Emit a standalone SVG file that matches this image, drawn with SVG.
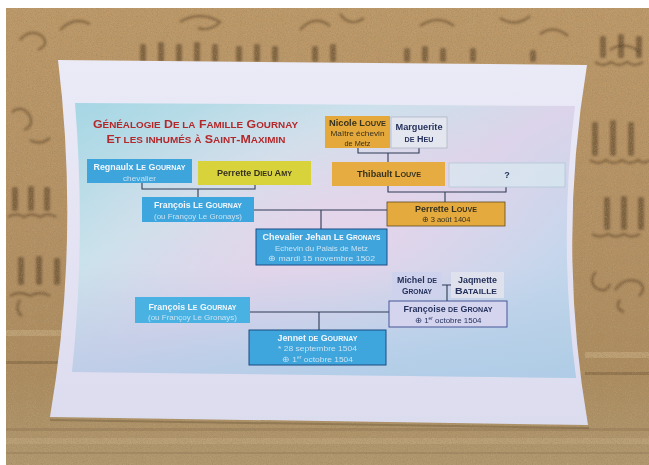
<svg xmlns="http://www.w3.org/2000/svg" width="649" height="465" viewBox="0 0 649 465">
<defs>
<style>
.t{font-family:"Liberation Sans",Arial,sans-serif;text-anchor:middle}
.b{font-weight:bold;font-size:9px}
.s{font-size:7.5px}
.sc{font-size:7.2px}
.w{fill:#f1f7fc}
.wl{fill:#c6e2f4}
.dk{fill:#36311f}
.nv{fill:#26325c}
.ttl{font-weight:bold;font-size:11.5px;fill:#b3282b}
.tsc{font-size:9.2px}
.con{fill:none;stroke:#2e3a55;stroke-width:1.1}
.cv{fill:#4f3820;opacity:.55}
.cw{fill:none;stroke:#4f3820;stroke-width:2.4;opacity:.5}
</style>
<linearGradient id="stone" x1="0" y1="0" x2="0" y2="1">
<stop offset="0" stop-color="#bc9868"/>
<stop offset="0.5" stop-color="#b39063"/>
<stop offset="0.8" stop-color="#ab8b5e"/>
<stop offset="1" stop-color="#b0976e"/>
</linearGradient>
<linearGradient id="paperG" x1="0" y1="0" x2="0" y2="1">
<stop offset="0" stop-color="#ebeaf7"/>
<stop offset="1" stop-color="#dcdcef"/>
</linearGradient>
<linearGradient id="chartG" x1="0" y1="0" x2="1" y2="1">
<stop offset="0" stop-color="#a6d6e4"/>
<stop offset="0.3" stop-color="#cae2eb"/>
<stop offset="0.5" stop-color="#dcd4ea"/>
<stop offset="0.75" stop-color="#c5d6ec"/>
<stop offset="1" stop-color="#b9d3e6"/>
</linearGradient>
<radialGradient id="pink" cx="0.5" cy="0.45" r="0.5">
<stop offset="0" stop-color="#ead5ea" stop-opacity="0.7"/>
<stop offset="1" stop-color="#ead5ea" stop-opacity="0"/>
</radialGradient>
<linearGradient id="lowBlue" x1="0" y1="0" x2="0" y2="1">
<stop offset="0.6" stop-color="#a9c8e6" stop-opacity="0"/>
<stop offset="1" stop-color="#a9c8e6" stop-opacity="0.6"/>
</linearGradient>
<filter id="grain" x="0" y="0" width="100%" height="100%">
<feTurbulence type="fractalNoise" baseFrequency="0.8" numOctaves="3" seed="4" result="t"/>
<feColorMatrix in="t" type="matrix" values="0 0 0 0 0.34  0 0 0 0 0.24  0 0 0 0 0.12  1.5 0 0 0 -0.7"/>
</filter>
<filter id="grain2" x="0" y="0" width="100%" height="100%">
<feTurbulence type="fractalNoise" baseFrequency="0.95" numOctaves="2" seed="9" result="t"/>
<feColorMatrix in="t" type="matrix" values="0 0 0 0 0.88  0 0 0 0 0.74  0 0 0 0 0.52  1.4 0 0 0 -0.7"/>
</filter>
<filter id="soft"><feGaussianBlur stdDeviation="0.9"/></filter>
</defs>

<g id="background">
<rect x="0" y="0" width="649" height="465" fill="#ffffff"/>
<rect x="6" y="8" width="643" height="457" fill="url(#stone)"/>
<rect x="6" y="330" width="60" height="6" fill="#c6ab80" opacity="0.6"/>
<rect x="6" y="361" width="60" height="3" fill="#6f5637" opacity="0.45"/>
<rect x="585" y="352" width="64" height="6" fill="#c6ab80" opacity="0.6"/>
<rect x="585" y="372" width="64" height="3" fill="#6f5637" opacity="0.45"/>
<rect x="6" y="428" width="643" height="3" fill="#8a7150" opacity="0.4"/>
<rect x="6" y="438" width="643" height="6" fill="#c4aa80" opacity="0.5"/>
<rect x="6" y="452" width="643" height="2" fill="#8a7150" opacity="0.35"/>
<g filter="url(#soft)">
<path class="cw" d="M20,40 q10,-12 22,-4 q8,8 -4,14 M60,30 q14,-14 30,-6 M180,22 q20,-12 40,0 q-10,10 -22,6 M300,30 q14,-16 30,-4 M340,14 q10,14 24,4 M420,26 q18,-12 34,0 M500,18 q16,10 30,-2 M540,34 q14,-10 28,2 M610,50 q14,-10 30,2"/>
<rect class="cv" x="140" y="44" width="6" height="18" rx="2"/>
<rect class="cv" x="158" y="42" width="6" height="20" rx="2"/>
<rect class="cv" x="176" y="44" width="6" height="18" rx="2"/>
<rect class="cv" x="194" y="42" width="6" height="20" rx="2"/>
<rect class="cv" x="212" y="44" width="6" height="18" rx="2"/>
<rect class="cv" x="236" y="46" width="6" height="16" rx="2"/>
<rect class="cv" x="254" y="44" width="6" height="18" rx="2"/>
<rect class="cv" x="272" y="46" width="6" height="16" rx="2"/>
<rect class="cv" x="312" y="46" width="6" height="16" rx="2"/>
<rect class="cv" x="330" y="44" width="6" height="18" rx="2"/>
<rect class="cv" x="404" y="48" width="6" height="14" rx="2"/>
<rect class="cv" x="422" y="46" width="6" height="16" rx="2"/>
<rect class="cv" x="440" y="48" width="6" height="14" rx="2"/>
<rect class="cv" x="470" y="48" width="6" height="14" rx="2"/>
<rect class="cv" x="530" y="50" width="6" height="12" rx="2"/>
<rect class="cv" x="600" y="36" width="6" height="22" rx="2"/>
<rect class="cv" x="618" y="34" width="6" height="24" rx="2"/>
<rect class="cv" x="636" y="36" width="6" height="22" rx="2"/>
<path class="cw" d="M595,62 q8,6 16,0 q8,6 16,0 q8,6 16,0"/>
<rect class="cv" x="592" y="122" width="6" height="34" rx="2"/>
<rect class="cv" x="610" y="120" width="6" height="36" rx="2"/>
<rect class="cv" x="628" y="122" width="6" height="34" rx="2"/>
<path class="cw" d="M590,160 q8,6 16,0 q8,6 16,0 q8,6 16,0 q6,5 12,0"/>
<rect class="cv" x="604" y="197" width="6" height="33" rx="2"/>
<rect class="cv" x="621" y="196" width="6" height="34" rx="2"/>
<rect class="cv" x="638" y="197" width="6" height="33" rx="2"/>
<path class="cw" d="M592,234 q8,5 16,0 q8,5 16,0 q8,5 16,0"/>
<path class="cw" d="M596,272 q-8,8 0,16 q10,6 14,-4 M615,290 q10,-14 24,-8 q8,6 0,14 M620,300 q-6,8 4,12"/>
<rect class="cv" x="12" y="187" width="6" height="24" rx="2"/>
<rect class="cv" x="28" y="186" width="6" height="25" rx="2"/>
<rect class="cv" x="44" y="187" width="6" height="24" rx="2"/>
<path class="cw" d="M8,217 q8,-5 16,0 q8,-5 16,0 q8,-5 16,0"/>
<rect class="cv" x="18" y="257" width="6" height="28" rx="2"/>
<rect class="cv" x="36" y="256" width="6" height="29" rx="2"/>
<rect class="cv" x="54" y="258" width="6" height="27" rx="2"/>
<path class="cw" d="M10,296 q10,-6 20,0 q10,-6 20,0 M20,300 q-6,10 2,16"/>
<path class="cw" d="M12,112 q10,-8 18,4 q4,10 -6,14 M30,140 q10,6 20,-2"/>
</g>
<rect x="6" y="8" width="643" height="457" filter="url(#grain)"/>
<rect x="6" y="8" width="643" height="457" filter="url(#grain2)" opacity="0.25"/>
</g>

<g id="paper">
<path d="M50,419 L589,427 L589,429 L50,421 Z" fill="#5e4c34" opacity="0.35"/>
<path d="M58,60 L587,65 Q557,245 588,425 L50,417 Q80,240 58,60 Z" fill="url(#paperG)"/>
<path d="M75,103 L575,106 Q558,240 576,378 L72,372 Q86,238 75,103 Z" fill="url(#chartG)"/>
<path d="M75,103 L575,106 Q558,240 576,378 L72,372 Q86,238 75,103 Z" fill="url(#pink)"/>
<path d="M75,103 L575,106 Q558,240 576,378 L72,372 Q86,238 75,103 Z" fill="url(#lowBlue)"/>
</g>

<g id="title">
<text class="t ttl" x="195.5" y="128" textLength="205" lengthAdjust="spacingAndGlyphs">G<tspan class="tsc">ÉNÉALOGIE</tspan> D<tspan class="tsc">E LA</tspan> F<tspan class="tsc">AMILLE</tspan> G<tspan class="tsc">OURNAY</tspan></text>
<text class="t ttl" x="196" y="142.5" textLength="179" lengthAdjust="spacingAndGlyphs">E<tspan class="tsc">T LES INHUMÉS À</tspan> S<tspan class="tsc">AINT</tspan>-M<tspan class="tsc">AXIMIN</tspan></text>
</g>

<g id="connectors">
<path class="con" d="M142,183 V189 H255 V185 M198,189 V197"/>
<path class="con" d="M358,148 V153 H419 V148 M388,153 V162"/>
<path class="con" d="M388,186 V192 H506 V187 M445,192 V202"/>
<path class="con" d="M254,210 H387 M321,210 V229"/>
<path class="con" d="M442,285 H451 M447,285 V301"/>
<path class="con" d="M250,312 H389 M319,312 V330"/>
</g>

<g id="node-regnaulx">
<rect x="87" y="159" width="105" height="24" fill="#3ea4dc"/>
<text class="t b w" x="139.5" y="170" textLength="92" lengthAdjust="spacingAndGlyphs">Regnaulx L<tspan class="sc">E</tspan> G<tspan class="sc">OURNAY</tspan></text>
<text class="t s wl" x="139.5" y="180.5" textLength="33" lengthAdjust="spacingAndGlyphs">chevalier</text>
</g>

<g id="node-perrette-dieu-amy">
<rect x="198" y="161" width="113" height="24" fill="#d8d33b"/>
<text class="t b dk" x="254.5" y="176" textLength="75" lengthAdjust="spacingAndGlyphs">Perrette D<tspan class="sc">IEU</tspan> A<tspan class="sc">MY</tspan></text>
</g>

<g id="node-francois-1">
<rect x="142" y="197" width="112" height="25" fill="#3ea6de"/>
<text class="t b w" x="198" y="208" textLength="88" lengthAdjust="spacingAndGlyphs">François L<tspan class="sc">E</tspan> G<tspan class="sc">OURNAY</tspan></text>
<text class="t s wl" x="198" y="218.5" textLength="88" lengthAdjust="spacingAndGlyphs">(ou Françoy Le Gronays)</text>
</g>

<g id="node-nicole-louve">
<rect x="325" y="116" width="65" height="32" fill="#e5a93b"/>
<text class="t b dk" x="357.5" y="125.5" textLength="57" lengthAdjust="spacingAndGlyphs">Nicole L<tspan class="sc">OUVE</tspan></text>
<text class="t s dk" x="357.5" y="136" textLength="54" lengthAdjust="spacingAndGlyphs">Maître échevin</text>
<text class="t s dk" x="357.5" y="145.5" textLength="26" lengthAdjust="spacingAndGlyphs">de Metz</text>
</g>

<g id="node-marguerite-de-heu">
<rect x="391" y="117" width="56" height="31" fill="#e3e6ef" stroke="#a0a8b8" stroke-width="0.6"/>
<text class="t b nv" x="419" y="130" textLength="47" lengthAdjust="spacingAndGlyphs">Marguerite</text>
<text class="t b nv" x="419" y="142" textLength="29" lengthAdjust="spacingAndGlyphs"><tspan class="sc">DE</tspan> H<tspan class="sc">EU</tspan></text>
</g>

<g id="node-thibault-louve">
<rect x="332" y="162" width="113" height="24" fill="#e6ac42"/>
<text class="t b dk" x="389" y="177" textLength="64" lengthAdjust="spacingAndGlyphs">Thibault L<tspan class="sc">OUVE</tspan></text>
</g>

<g id="node-unknown">
<rect x="449" y="163" width="116" height="24" fill="#d7e8ef" fill-opacity="0.7" stroke="#a9bfcc" stroke-width="0.6"/>
<text class="t b nv" x="507" y="178">?</text>
</g>

<g id="node-perrette-louve">
<rect x="387" y="202" width="118" height="24" fill="#e5aa3e" stroke="#5c4a22" stroke-width="0.8"/>
<text class="t b dk" x="446" y="211.5" textLength="62" lengthAdjust="spacingAndGlyphs">Perrette L<tspan class="sc">OUVE</tspan></text>
<text class="t s dk" x="446" y="222" textLength="49" lengthAdjust="spacingAndGlyphs">⊕ 3 août 1404</text>
</g>

<g id="node-chevalier-jehan">
<rect x="256" y="229" width="131" height="36" fill="#3fa4dc" stroke="#1c4d86" stroke-width="1"/>
<text class="t b w" x="321.5" y="239.5" font-size="8.2" textLength="118" lengthAdjust="spacing">Chevalier Jehan L<tspan font-size="6.6">E</tspan> G<tspan font-size="6.6">RONAYS</tspan></text>
<text class="t s wl" x="321.5" y="250.5" textLength="93" lengthAdjust="spacingAndGlyphs">Echevin du Palais de Metz</text>
<text class="t s wl" x="321.5" y="261" textLength="107" lengthAdjust="spacingAndGlyphs">⊕ mardi 15 novembre 1502</text>
</g>

<g id="node-michel-de-gronay">
<rect x="392" y="272" width="50" height="26" fill="#cfd2ec"/>
<text class="t b nv" x="417" y="283" textLength="40" lengthAdjust="spacingAndGlyphs">Michel <tspan class="sc">DE</tspan></text>
<text class="t b nv" x="417" y="293.5" textLength="30" lengthAdjust="spacingAndGlyphs">G<tspan class="sc">RONAY</tspan></text>
</g>

<g id="node-jaqmette-bataille">
<rect x="451" y="272" width="53" height="26" fill="#dfe2ec"/>
<text class="t b nv" x="477.5" y="283" textLength="39" lengthAdjust="spacingAndGlyphs">Jaqmette</text>
<text class="t b nv" x="476" y="293.5" textLength="42" lengthAdjust="spacingAndGlyphs">B<tspan class="sc">ATAILLE</tspan></text>
</g>

<g id="node-francoise-de-gronay">
<rect x="389" y="301" width="118" height="26" fill="#d4d4ef" stroke="#3b4a8e" stroke-width="0.9"/>
<text class="t b nv" x="448" y="312" textLength="89" lengthAdjust="spacingAndGlyphs">Françoise <tspan class="sc">DE</tspan> G<tspan class="sc">RONAY</tspan></text>
<text class="t s nv" x="448" y="322.5" textLength="67" lengthAdjust="spacingAndGlyphs">⊕ 1<tspan font-size="4.5" dy="-2.5">er</tspan><tspan dy="2.5"> octobre 1504</tspan></text>
</g>

<g id="node-francois-2">
<rect x="135" y="297" width="115" height="26" fill="#4ab2e3"/>
<text class="t b w" x="192.5" y="309.5" textLength="88" lengthAdjust="spacingAndGlyphs">François L<tspan class="sc">E</tspan> G<tspan class="sc">OURNAY</tspan></text>
<text class="t s wl" x="192.5" y="320" textLength="89" lengthAdjust="spacingAndGlyphs">(ou Françoy Le Gronays)</text>
</g>

<g id="node-jennet-de-gournay">
<rect x="249" y="330" width="137" height="35" fill="#3ea5dd" stroke="#1b4b80" stroke-width="1"/>
<text class="t b w" x="317.5" y="340.5" textLength="80" lengthAdjust="spacingAndGlyphs">Jennet <tspan class="sc">DE</tspan> G<tspan class="sc">OURNAY</tspan></text>
<text class="t s wl" x="317.5" y="351" textLength="79" lengthAdjust="spacingAndGlyphs">* 28 septembre 1504</text>
<text class="t s wl" x="317.5" y="361.5" textLength="71" lengthAdjust="spacingAndGlyphs">⊕ 1<tspan font-size="4.5" dy="-2.5">er</tspan><tspan dy="2.5"> octobre 1504</tspan></text>
</g>
</svg>
